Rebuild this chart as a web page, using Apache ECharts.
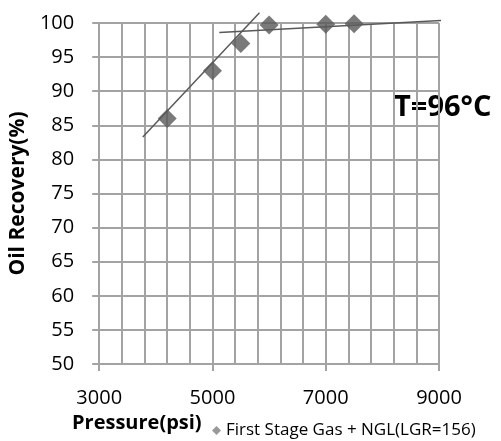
<!DOCTYPE html>
<html>
<head>
<meta charset="utf-8">
<script src="https://cdn.jsdelivr.net/npm/echarts@6/dist/echarts.min.js"></script>
<style>
  html, body { margin: 0; padding: 0; background: #fff; }
  #chart { width: 501px; height: 441px; }
</style>
</head>
<body>
<div id="chart"></div>
<script>
// measured points
const pressure = [4200, 5000, 5500, 6000, 7000, 7500];
const recovery = [86, 93, 97, 99.7, 99.8, 99.9];

// hand drawn trend lines (start / end)
const trendLow = [[3770, 83.3], [5830, 101.5]];
const trendHigh = [[5120, 98.6], [9070, 100.4]];

const seriesName = 'First Stage Gas + NGL(LGR=156)';
const xTicks = { min: 3000, max: 9000, step: 2000 };
const yTicks = { min: 50, max: 100, step: 5 };

const gridColor = '#a3a3a3';
const markColor = '#595959';
const font = '"Open Sans", sans-serif';

const chart = echarts.init(document.getElementById('chart'));

chart.setOption({
  animation: false,
  backgroundColor: '#fff',
  grid: { left: 97, right: 62, top: 23, bottom: 77 },
  legend: {
    data: [seriesName],
    left: 207,
    top: 417,
    icon: 'diamond',
    itemWidth: 9,
    itemHeight: 9,
    itemStyle: { color: '#7f7f7f' },
    textStyle: { fontFamily: font, fontSize: 17, color: '#000' }
  },
  xAxis: {
    type: 'value',
    min: xTicks.min,
    max: xTicks.max,
    interval: xTicks.step,
    axisLine: { show: true, lineStyle: { color: gridColor, width: 2 } },
    axisTick: { show: true, length: 7, lineStyle: { color: gridColor, width: 2 } },
    axisLabel: {
      margin: 24,
      fontFamily: font,
      fontSize: 20,
      color: '#000',
      formatter: (v) => String(v)
    },
    splitLine: { show: true, lineStyle: { color: gridColor, width: 2 } },
    minorTick: { show: false, splitNumber: 5 },
    minorSplitLine: { show: true, lineStyle: { color: gridColor, width: 2 } }
  },
  yAxis: {
    type: 'value',
    min: yTicks.min,
    max: yTicks.max,
    interval: yTicks.step,
    name: 'Oil Recovery(%)',
    nameLocation: 'middle',
    nameGap: 56,
    nameTextStyle: { fontFamily: font, fontSize: 21, fontWeight: 'bold', color: '#000' },
    axisLine: { show: true, lineStyle: { color: gridColor, width: 2 } },
    axisTick: { show: true, length: 7, lineStyle: { color: gridColor, width: 2 } },
    axisLabel: { margin: 25, fontFamily: font, fontSize: 20, color: '#000' },
    splitLine: { show: true, lineStyle: { color: gridColor, width: 2 } }
  },
  graphic: [
    {
      type: 'text',
      left: 72,
      top: 413,
      style: { text: 'Pressure(psi)', font: 'bold 20px "Open Sans", sans-serif', fill: '#000' }
    },
    {
      type: 'text',
      left: 394,
      top: 93,
      style: { text: 'T=96°C', font: 'bold 29px "Open Sans", sans-serif', fill: '#000' }
    }
  ],
  series: [
    {
      name: seriesName,
      type: 'scatter',
      symbol: 'diamond',
      symbolSize: 19,
      itemStyle: { color: markColor },
      data: pressure.map((p, i) => [p, recovery[i]]),
      z: 3
    },
    {
      type: 'line',
      data: trendLow,
      showSymbol: false,
      clip: false,
      silent: true,
      lineStyle: { color: markColor, width: 1.5 },
      z: 2
    },
    {
      type: 'line',
      data: trendHigh,
      showSymbol: false,
      clip: false,
      silent: true,
      lineStyle: { color: markColor, width: 1.5 },
      z: 2
    }
  ]
});
</script>
</body>
</html>
